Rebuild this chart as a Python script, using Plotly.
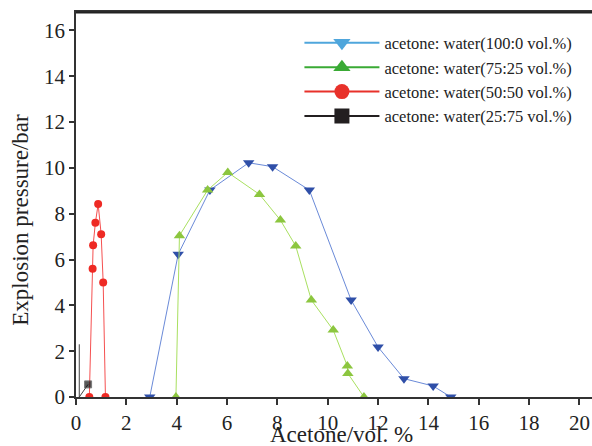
import plotly.graph_objects as go

# ---- data ----
x_100_0 = [2.93, 4.06, 5.32, 6.86, 7.81, 9.27, 10.93, 12.00, 13.03, 14.19, 14.89]
y_100_0 = [0.0, 6.23, 9.03, 10.22, 10.05, 9.03, 4.23, 2.18, 0.80, 0.48, 0.0]

x_75_25 = [3.97, 4.11, 5.23, 6.03, 7.29, 8.12, 8.73, 9.35, 10.22, 10.78, 10.80, 11.44]
y_75_25 = [0.0, 7.04, 9.03, 9.80, 8.84, 7.72, 6.59, 4.23, 2.92, 1.35, 1.03, 0.0]

x_50_50 = [0.53, 0.66, 0.68, 0.77, 0.88, 1.00, 1.08, 1.17]
y_50_50 = [0.0, 5.60, 6.62, 7.60, 8.42, 7.10, 5.00, 0.0]

x_25_75 = [0.13, 0.13, 0.48]
y_25_75 = [2.3, 0.0, 0.55]

names = ["acetone: water(100:0 vol.%)", "acetone: water(75:25 vol.%)",
         "acetone: water(50:50 vol.%)", "acetone: water(25:75 vol.%)"]
x_ticks = list(range(0, 21, 2))
y_ticks = list(range(0, 17, 2))
x_title = "Acetone/vol. %"
y_title = "Explosion pressure/bar"

serif = "Liberation Serif"
fig = go.Figure()

# data traces
fig.add_trace(go.Scatter(x=x_100_0, y=y_100_0, mode="lines+markers", showlegend=False,
                         line=dict(color="#6a8ad8", width=1),
                         marker=dict(symbol="triangle-down", size=10, color="#2f4fa8")))
fig.add_trace(go.Scatter(x=x_75_25, y=y_75_25, mode="lines+markers", showlegend=False,
                         line=dict(color="#a9e060", width=1),
                         marker=dict(symbol="triangle-up", size=10, color="#8cc63f")))
fig.add_trace(go.Scatter(x=x_50_50, y=y_50_50, mode="lines+markers", showlegend=False,
                         line=dict(color="#f55050", width=1),
                         marker=dict(symbol="circle", size=8, color="#ee2a24")))
fig.add_trace(go.Scatter(x=x_25_75, y=y_25_75, mode="lines+markers", showlegend=False,
                         line=dict(color="#444444", width=1),
                         marker=dict(symbol="square", size=[0, 0, 7], color="#111111")))

# legend entries (colors as shown in the reference legend)
leg_styles = [("#4fa6dc", "triangle-down"), ("#3aaa35", "triangle-up"),
              ("#e8312a", "circle"), ("#231f20", "square")]
for nm, (c, s) in zip(names, leg_styles):
    fig.add_trace(go.Scatter(x=[None], y=[None], mode="lines+markers", name=nm,
                             line=dict(color=c, width=2),
                             marker=dict(symbol=s, size=15, color=c)))

fig.update_layout(
    width=592, height=446,
    margin=dict(l=76, r=0, t=12, b=49),
    paper_bgcolor="white", plot_bgcolor="white",
    font=dict(family=serif, color="#222222"),
    legend=dict(x=0.433, y=0.965, xanchor="left", yanchor="top",
                font=dict(family=serif, size=16.5, color="#222222"),
                bgcolor="rgba(0,0,0,0)", tracegroupgap=0, itemwidth=75),
    xaxis=dict(range=[0, 20.5], tickvals=x_ticks, showgrid=False, zeroline=False,
               automargin=False,
               showline=True, linecolor="#333333", linewidth=1.5, mirror=True,
               ticks="outside", ticklen=6, tickwidth=1.5, tickcolor="#333333",
               tickfont=dict(family=serif, size=21, color="#222222")),
    yaxis=dict(range=[0, 16.8], tickvals=y_ticks, showgrid=False, zeroline=False,
               automargin=False,
               showline=True, linecolor="#333333", linewidth=1.5,
               ticks="outside", ticklen=5, tickwidth=1.5, tickcolor="#333333",
               tickfont=dict(family=serif, size=21, color="#222222")),
    shapes=[dict(type="line", xref="paper", yref="paper", x0=0, x1=1, y0=0.999, y1=0.999,
                 line=dict(color="#222222", width=2), layer="above")],
    annotations=[
        dict(text=x_title, xref="paper", yref="paper", x=0.514, y=-0.097,
             xanchor="center", yanchor="middle", showarrow=False,
             font=dict(family=serif, size=23, color="#222222")),
        dict(text=y_title, xref="paper", yref="paper", x=-0.107, y=0.46,
             xanchor="center", yanchor="middle", showarrow=False, textangle=-90,
             font=dict(family=serif, size=23, color="#222222")),
    ],
)

fig.write_html("out.html", config={"displayModeBar": False},
               post_script="document.body.style.margin='0';document.body.style.overflow='hidden';")
